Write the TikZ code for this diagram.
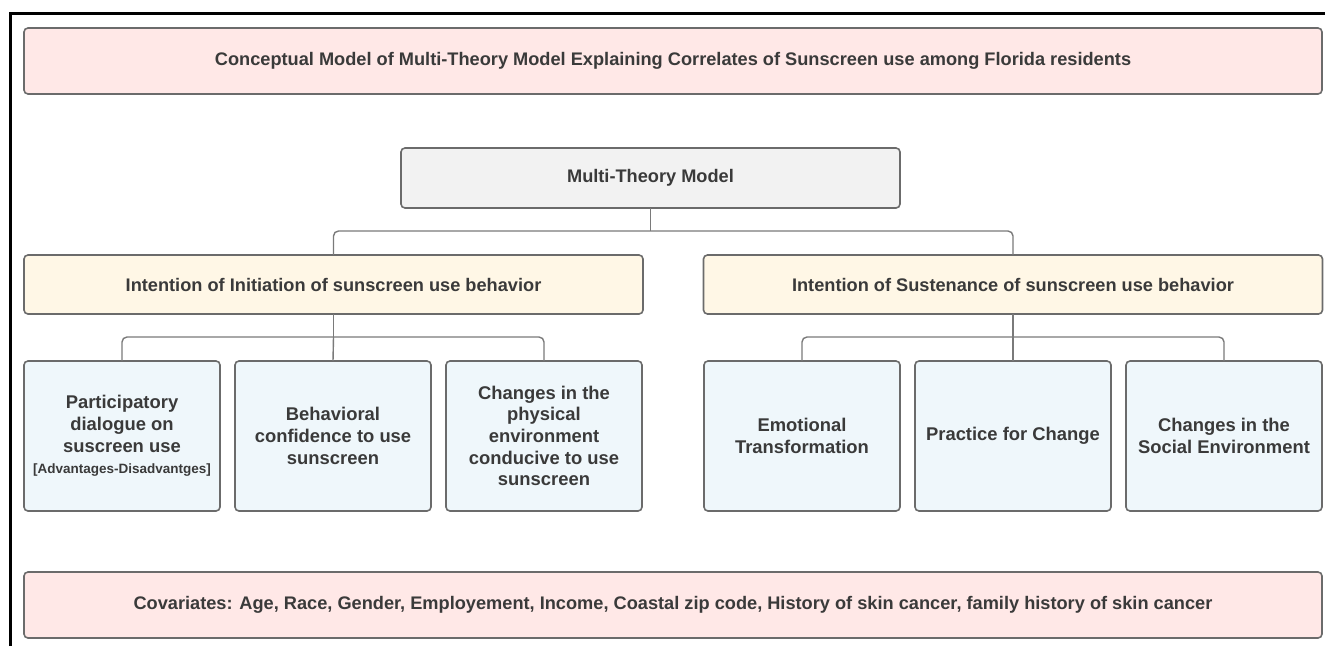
\documentclass[tikz,border=0pt]{standalone}
\usepackage{fontspec}
\setmainfont{Liberation Sans}
\usepackage{tikz}
\usetikzlibrary{positioning}

\definecolor{edgegray}{HTML}{6B6B6B}
\definecolor{linkgray}{HTML}{7A7A7A}
\definecolor{textgray}{HTML}{3A3A3A}
\definecolor{pinkfill}{HTML}{FFE8E7}
\definecolor{greyfill}{HTML}{F2F2F2}
\definecolor{creamfill}{HTML}{FFF7E6}
\definecolor{bluefill}{HTML}{EFF7FB}

\begin{document}
\begin{tikzpicture}[x = 1pt, y = -1pt,
    every node/.style = { draw = edgegray, line width = 1.6pt, rounded corners = 4pt, outer sep = 0pt,
                          align = center, text = textgray, font = \bfseries, inner sep = 0pt },
    banner/.style = { fill = pinkfill, minimum width = 1298pt, minimum height = 66pt, font = \bfseries\fontsize{18.2}{21}\selectfont },
    rootbox/.style = { fill = greyfill, minimum width = 499pt, minimum height = 60pt, font = \bfseries\fontsize{18.2}{21}\selectfont },
    branchbox/.style = { fill = creamfill, minimum width = 619pt, minimum height = 59pt, font = \bfseries\fontsize{18.2}{21}\selectfont },
    leafbox/.style = { fill = bluefill, minimum width = 196pt, minimum height = 150pt, font = \bfseries\fontsize{18.4}{21.7}\selectfont },
    link/.style = { draw = linkgray, line width = 1.4pt, rounded corners = 5pt }]

    \useasboundingbox (0,0) rectangle (1325,646);
    \draw[line width = 2.5pt, black] (10.5,646) |- (1325,13.5);

    \node[banner] (title) at (673,61) {Conceptual Model of Multi-Theory Model Explaining Correlates of Sunscreen use among Florida residents};
    \node[rootbox] (mtm) at (650.5,178) {Multi-Theory Model};

    \node[branchbox] (init) at (333.5,284.5) {Intention of Initiation of sunscreen use behavior};
    \node[branchbox] (sust) at (1013,284.5) {Intention of Sustenance of sunscreen use behavior};

    % initiation constructs
    \node[leafbox] (pd) at (122,436) {Participatory\\ dialogue on\\ suscreen use\\ {\fontsize{13.5}{16}\selectfont [Advantages-Disadvantges]}};
    \node[leafbox, right = 15pt of pd] (bc) {Behavioral\\ confidence to use\\ sunscreen};
    \node[leafbox, right = 15pt of bc] (pe) {Changes in the\\ physical\\ environment\\ conducive to use\\ sunscreen};

    % sustenance constructs
    \node[leafbox] (et) at (802,436) {Emotional\\ Transformation};
    \node[leafbox, right = 15pt of et] (pc) {Practice for Change};
    \node[leafbox, right = 15pt of pc] (se) {Changes in the\\ Social Environment};

    \node[banner] (cov) at (673,605) {Covariates: Age, Race, Gender, Employement, Income, Coastal zip code, History of skin cancer, family history of skin cancer};

    \draw[link] (mtm.south) -- ++(0,23) coordinate (j0);
    \draw[link] (init.north) |- (j0) -| (sust.north);

    \draw[link] (init.south) -- ++(0,23) coordinate (j1);
    \draw[link] (pd.north) |- (j1) -| (pe.north);
    \draw[link] (j1) -- (bc.north);

    \draw[link] (sust.south) -- ++(0,23) coordinate (j2);
    \draw[link] (et.north) |- (j2) -| (se.north);
    \draw[link] (j2) -- (pc.north);
\end{tikzpicture}
\end{document}
